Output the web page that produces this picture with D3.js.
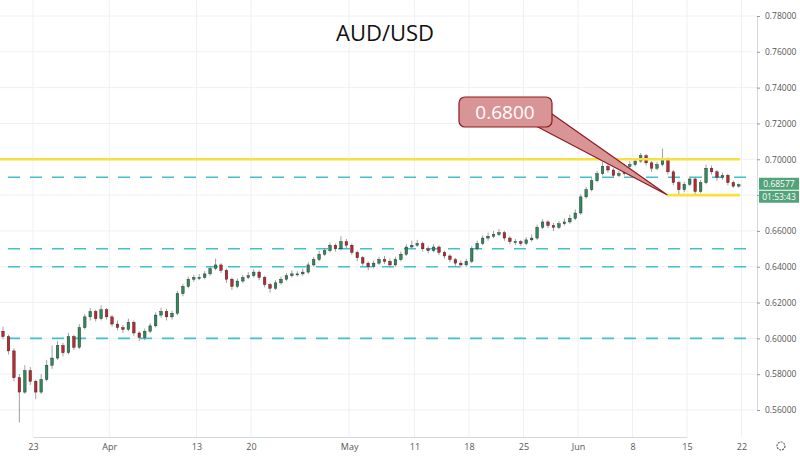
<!DOCTYPE html>
<html>
<head>
<meta charset="utf-8">
<script src="https://cdn.jsdelivr.net/npm/d3@7"></script>
<style>
  body { margin: 0; background: #fff; font-family: "Open Sans", sans-serif; }
</style>
</head>
<body>
<div id="chart"></div>
<script>
// Half-day candles, Mar 18 to Jun 19 2020 (two per trading day)
const firstOpen = 0.6040;
const closes = [
  0.6010,0.5930, 0.5780,0.5700, 0.5820,0.5760, 0.5700,0.5770, 0.5850,0.5890, 0.5960,0.5920, 0.6010,0.5950,
  0.6060,0.6120, 0.6150,0.6110, 0.6160,0.6120, 0.6080,0.6060, 0.6050,0.6090, 0.6030,0.6005, 0.6040,0.6070,
  0.6130,0.6150, 0.6120,0.6140, 0.6250,0.6290, 0.6330,0.6340, 0.6340,0.6360, 0.6390,0.6410, 0.6380,0.6330,
  0.6290,0.6320, 0.6340,0.6350, 0.6370,0.6340, 0.6300,0.6280, 0.6310,0.6330, 0.6350,0.6360, 0.6360,0.6370,
  0.6410,0.6440, 0.6470,0.6490, 0.6520,0.6500, 0.6540,0.6520, 0.6480,0.6450, 0.6420,0.6400, 0.6420,0.6440,
  0.6430,0.6410, 0.6440,0.6470, 0.6510,0.6520, 0.6530,0.6500, 0.6490,0.6510, 0.6480,0.6460, 0.6440,0.6420,
  0.6410,0.6430, 0.6500,0.6530, 0.6560,0.6570, 0.6580,0.6590, 0.6560,0.6540, 0.6540,0.6530, 0.6550,0.6560,
  0.6620,0.6650, 0.6630,0.6620, 0.6640,0.6650, 0.6670,0.6700, 0.6790,0.6830, 0.6880,0.6920, 0.6960,0.6940,
  0.6910,0.6920, 0.6960,0.6970, 0.6990,0.7020, 0.6980,0.6950, 0.6970,0.7000, 0.6930,0.6870, 0.6830,0.6860,
  0.6890,0.6820, 0.6870,0.6950, 0.6930,0.6900, 0.6910,0.6870, 0.6850,0.6858
];
const highs = [
  0.6065,0.6020,0.5945,0.5800,0.5850,0.5840,0.5770,0.5800,0.5880,0.5960,0.5985,0.5975,0.6030,0.6020,
  0.6080,0.6135,0.6170,0.6160,0.6185,0.6170,0.6130,0.6100,0.6075,0.6110,0.6100,0.6040,0.6055,0.6085,
  0.6145,0.6170,0.6165,0.6155,0.6265,0.6305,0.6345,0.6355,0.6360,0.6375,0.6405,0.6445,0.6420,0.6390,
  0.6340,0.6335,0.6355,0.6370,0.6385,0.6380,0.6350,0.6310,0.6325,0.6345,0.6365,0.6380,0.6375,0.6390,
  0.6425,0.6455,0.6490,0.6505,0.6535,0.6530,0.6570,0.6555,0.6530,0.6490,0.6460,0.6430,0.6435,0.6455,
  0.6460,0.6445,0.6455,0.6485,0.6525,0.6545,0.6550,0.6540,0.6515,0.6525,0.6520,0.6490,0.6470,0.6450,
  0.6435,0.6445,0.6515,0.6545,0.6575,0.6590,0.6600,0.6610,0.6600,0.6570,0.6555,0.6550,0.6565,0.6580,
  0.6635,0.6665,0.6660,0.6645,0.6655,0.6670,0.6690,0.6720,0.6805,0.6845,0.6895,0.6935,0.6985,0.6975,
  0.6950,0.6935,0.6975,0.6990,0.7005,0.7035,0.7030,0.6990,0.6985,0.7060,0.7010,0.6940,0.6880,0.6875,
  0.6905,0.6900,0.6885,0.6970,0.6965,0.6940,0.6925,0.6920,0.6880,0.6865
];
const lows = [
  0.5995,0.5910,0.5760,0.5530,0.5690,0.5740,0.5660,0.5690,0.5760,0.5830,0.5880,0.5900,0.5910,0.5935,
  0.5940,0.6050,0.6100,0.6095,0.6100,0.6105,0.6065,0.6045,0.6030,0.6040,0.6015,0.5985,0.5990,0.6030,
  0.6060,0.6115,0.6100,0.6105,0.6130,0.6235,0.6280,0.6315,0.6325,0.6330,0.6350,0.6380,0.6365,0.6310,
  0.6270,0.6280,0.6310,0.6330,0.6340,0.6325,0.6285,0.6255,0.6270,0.6300,0.6320,0.6340,0.6345,0.6350,
  0.6360,0.6400,0.6430,0.6460,0.6480,0.6485,0.6490,0.6505,0.6465,0.6430,0.6405,0.6380,0.6390,0.6410,
  0.6415,0.6395,0.6400,0.6430,0.6460,0.6500,0.6510,0.6485,0.6475,0.6480,0.6465,0.6445,0.6425,0.6405,
  0.6395,0.6400,0.6420,0.6490,0.6520,0.6545,0.6560,0.6570,0.6545,0.6525,0.6520,0.6515,0.6520,0.6540,
  0.6550,0.6610,0.6615,0.6600,0.6610,0.6630,0.6640,0.6660,0.6690,0.6780,0.6820,0.6870,0.6910,0.6925,
  0.6895,0.6900,0.6910,0.6950,0.6960,0.6980,0.6965,0.6930,0.6940,0.6960,0.6915,0.6855,0.6805,0.6815,
  0.6850,0.6800,0.6810,0.6860,0.6915,0.6880,0.6885,0.6855,0.6840,0.6842
];

// Date labels and the trading-day index they sit on
const tickLabels = ["23", "Apr", "13", "20", "May", "11", "18", "25", "Jun", "8", "15", "22"];
const tickDays = [3, 10, 18, 23, 32, 38, 43, 48, 53, 58, 63, 68];

const priceTicks = [0.56, 0.58, 0.60, 0.62, 0.64, 0.66, 0.68, 0.70, 0.72, 0.74, 0.76, 0.78];
const dashedLevels = [0.690, 0.650, 0.640, 0.600];
const resistance = 0.700;
const support = 0.680;
const lastPrice = 0.68577;

const W = 800, H = 456, plotRight = 757, plotBottom = 437;

const svg = d3.select("#chart").append("svg")
    .attr("width", W).attr("height", H);

const x = d3.scaleLinear().domain([3, 63]).range([33, 687]);
const y = d3.scaleLinear().domain([0.56, 0.78]).range([410, 16]);

// grid
svg.append("g").selectAll("line").data(priceTicks).join("line")
    .attr("x1", 0).attr("x2", plotRight)
    .attr("y1", d => y(d)).attr("y2", d => y(d))
    .attr("stroke", "#eef0f3");
svg.append("g").selectAll("line").data(tickDays).join("line")
    .attr("x1", d => x(d)).attr("x2", d => x(d))
    .attr("y1", 0).attr("y2", plotBottom)
    .attr("stroke", "#eef0f3");

// right price axis (0.68 label sits under the last-price tags)
const yAxis = d3.axisRight(y).tickValues(priceTicks)
    .tickFormat(d => Math.abs(d - 0.68) < 1e-9 ? "" : d3.format(".5f")(d)).tickSize(3);
svg.append("g")
    .attr("transform", `translate(${plotRight},0)`)
    .call(yAxis)
    .call(g => g.select(".domain").attr("stroke", "#d6d8dc"))
    .call(g => g.selectAll(".tick line").attr("stroke", "#999"))
    .call(g => g.selectAll("text").attr("fill", "#555").attr("font-size", 8.5).attr("x", 8)
        .attr("font-family", "Open Sans, sans-serif"));

// bottom date axis
const xAxis = d3.axisBottom(x).tickValues(tickDays).tickFormat((d, i) => tickLabels[i]).tickSize(0);
svg.append("g")
    .attr("transform", `translate(0,${plotBottom})`)
    .call(xAxis)
    .call(g => g.select(".domain").attr("stroke", "#d6d8dc"))
    .call(g => g.selectAll("text").attr("fill", "#555").attr("font-size", 9).attr("dy", "1.1em")
        .attr("font-family", "Open Sans, sans-serif"));

// dashed levels
svg.append("g").selectAll("line").data(dashedLevels).join("line")
    .attr("x1", 8).attr("x2", 752)
    .attr("y1", d => y(d)).attr("y2", d => y(d))
    .attr("stroke", "#3fc1d0").attr("stroke-width", 1.6)
    .attr("stroke-dasharray", "12,10");

// candles
const candles = closes.map((c, i) => ({
  pos: Math.floor(i / 2) + (i % 2 ? 0.5 : 0) + 0.25,
  open: i === 0 ? firstOpen : closes[i - 1],
  close: c, high: highs[i], low: lows[i]
}));
const g = svg.append("g");
g.selectAll(".wick").data(candles).join("line")
    .attr("x1", d => x(d.pos)).attr("x2", d => x(d.pos))
    .attr("y1", d => y(d.high)).attr("y2", d => y(d.low))
    .attr("stroke", "#888").attr("stroke-width", 0.8);
g.selectAll(".body").data(candles).join("rect")
    .attr("x", d => x(d.pos) - 1.3).attr("width", 2.6)
    .attr("y", d => y(Math.max(d.open, d.close)))
    .attr("height", d => Math.max(1, Math.abs(y(d.open) - y(d.close))))
    .attr("fill", d => d.close >= d.open ? "#2f8a5c" : "#c0262d")
    .attr("stroke", "#222").attr("stroke-width", 0.4);

// yellow levels
svg.append("line").attr("x1", 0).attr("x2", 740)
    .attr("y1", y(resistance)).attr("y2", y(resistance))
    .attr("stroke", "#f7e13b").attr("stroke-width", 2.6);
svg.append("line").attr("x1", x(61.2)).attr("x2", 740)
    .attr("y1", y(support)).attr("y2", y(support))
    .attr("stroke", "#f7e13b").attr("stroke-width", 2.6);

// callout
const tip = [x(61.2), y(support)];
svg.append("path")
    .attr("d", `M536,126 L${tip[0]},${tip[1]} L552,114 Z`)
    .attr("fill", "#d99596").attr("stroke", "#8e1b1f").attr("stroke-width", 1.2);
svg.append("rect").attr("x", 459).attr("y", 97).attr("width", 93).attr("height", 30).attr("rx", 6)
    .attr("fill", "#d99596").attr("stroke", "#8e1b1f").attr("stroke-width", 1.2);
svg.append("text").attr("x", 505).attr("y", 119).attr("text-anchor", "middle")
    .attr("fill", "#fff").attr("font-size", 19).text("0.6800");

// last price tags
svg.append("rect").attr("x", plotRight + 2).attr("y", y(lastPrice) - 7).attr("width", 40).attr("height", 12)
    .attr("fill", "#53a37a");
svg.append("text").attr("x", plotRight + 22).attr("y", y(lastPrice) + 2.5).attr("text-anchor", "middle")
    .attr("fill", "#fff").attr("font-size", 8.5).text("0.68577");
svg.append("rect").attr("x", plotRight + 2).attr("y", y(lastPrice) + 6).attr("width", 40).attr("height", 12)
    .attr("fill", "#53a37a");
svg.append("text").attr("x", plotRight + 22).attr("y", y(lastPrice) + 15.5).attr("text-anchor", "middle")
    .attr("fill", "#fff").attr("font-size", 8.5).text("01:53:43");

// title
svg.append("text").attr("x", 385).attr("y", 41).attr("text-anchor", "middle")
    .attr("font-size", 22).attr("fill", "#111").text("AUD/USD");

// settings gear
svg.append("circle").attr("cx", 781).attr("cy", 446).attr("r", 4)
    .attr("fill", "none").attr("stroke", "#666").attr("stroke-width", 1.2)
    .attr("stroke-dasharray", "2,1");
</script>
</body>
</html>
